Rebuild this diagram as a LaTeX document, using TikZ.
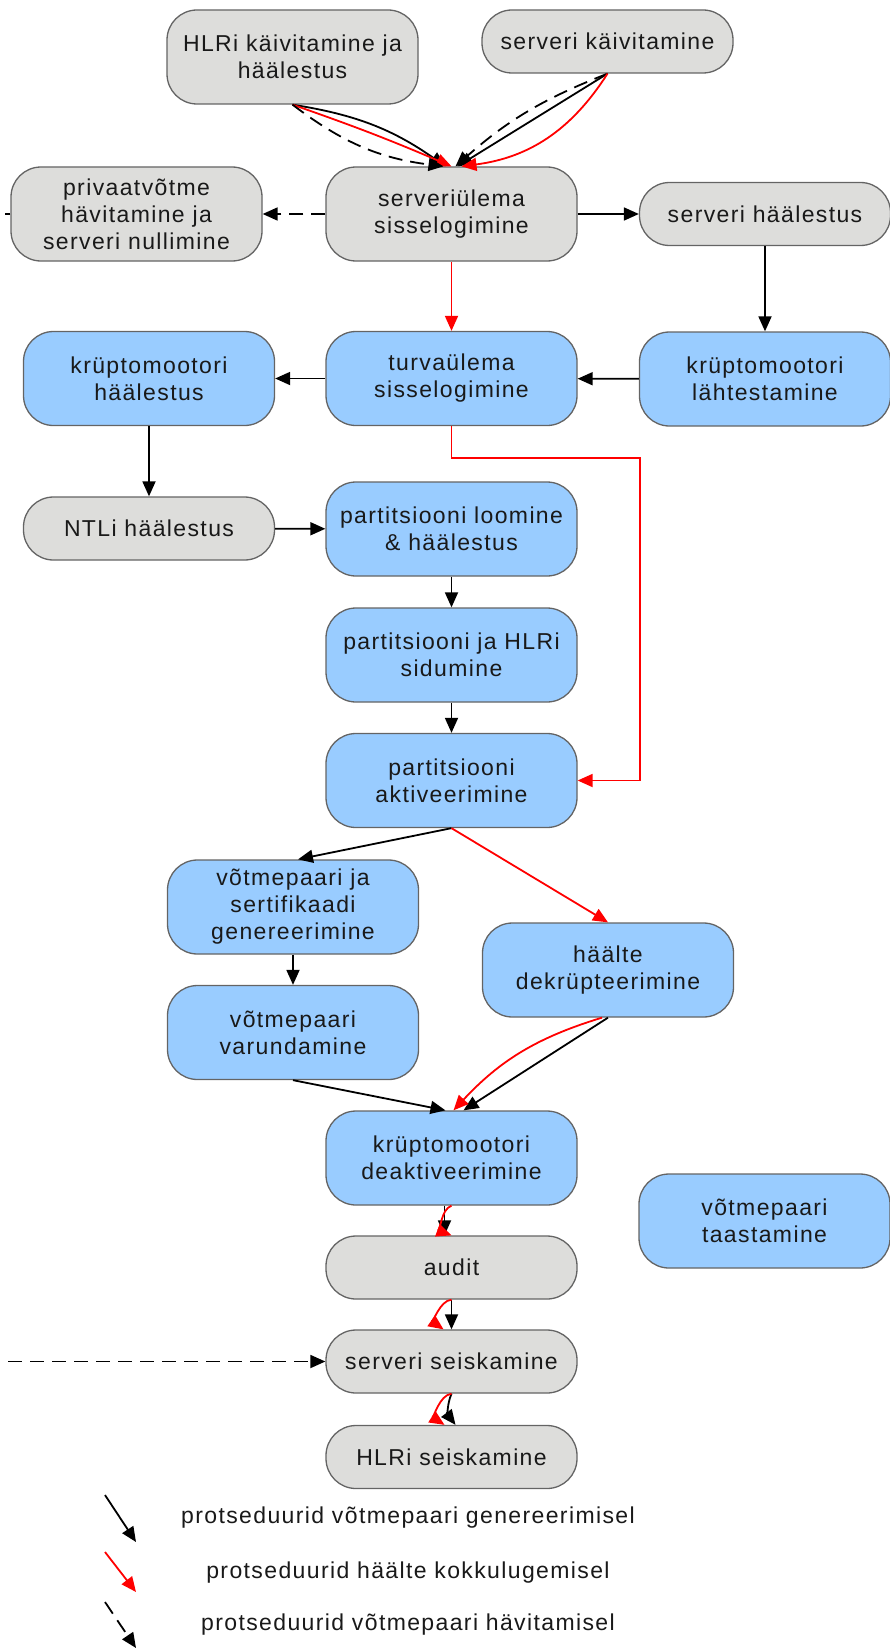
\documentclass[tikz,border=0pt]{standalone}
\usepackage{fontspec}
\setmainfont{Liberation Sans}[LetterSpace=6]
\usepackage{tikz}
\usetikzlibrary{shapes,arrows.meta}
\definecolor{boxgrey}{RGB}{221,221,219}
\definecolor{boxblue}{RGB}{153,204,255}
\definecolor{boxline}{RGB}{100,100,100}
\definecolor{txtcol}{RGB}{25,25,25}
\tikzstyle{greybox} = [draw=boxline, line width=1.3pt, fill=boxgrey, rounded corners=30pt, minimum width=251pt, minimum height=94pt, align=center, inner sep=2pt, text=txtcol, font=\fontsize{23pt}{27pt}\selectfont]
\tikzstyle{bluebox} = [greybox, fill=boxblue]
\tikzstyle{onerow} = [minimum height=63pt]
\tikzstyle{genline} = [draw, ->, line width=1.8pt]
\tikzstyle{countline} = [genline, red]
\tikzstyle{destroyline} = [genline, dash pattern=on 14pt off 8pt]
\tikzstyle{legtext} = [text=txtcol, font=\fontsize{23pt}{27pt}\selectfont]

\begin{document}
\begin{tikzpicture}[x=1pt, y=-1pt, >={Triangle[length=15pt,width=13pt]}]
    \useasboundingbox (0,0) rectangle (890,1648);
    % We start with the server side
    \node [greybox] (susr) at (451.5,214) {serveriülema\\sisselogimine};
    \node [greybox] (hkaiv) at (292.5,57) {HLRi käivitamine ja\\häälestus};
    \node [greybox, onerow] (skaiv) at (607.5,41.5) {serveri käivitamine};
    \node [greybox, node distance=315pt, left of = susr] (pvh) {privaatvõtme\\hävitamine ja\\serveri nullimine};
    \node [greybox, onerow, node distance=313.5pt, right of = susr] (shaal) {serveri häälestus};

    % Then the crypto engine and the partition
    \node [bluebox, node distance=164.5pt, below of = susr] (tusr) {turvaülema\\sisselogimine};
    \node [bluebox, node distance=165pt, below of = shaal] (klaht) {krüptomootori\\lähtestamine};
    \node [bluebox, node distance=302.5pt, left of = tusr] (khaal) {krüptomootori\\häälestus};
    \node [greybox, onerow, node distance=150pt, below of = khaal] (ntl) {NTLi häälestus};
    \node [bluebox, node distance=150.5pt, below of = tusr] (ploom) {partitsiooni loomine\\\& häälestus};
    \node [bluebox, node distance=126pt, below of = ploom] (psid) {partitsiooni ja HLRi\\sidumine};
    \node [bluebox, node distance=125.5pt, below of = psid] (pakt) {partitsiooni\\aktiveerimine};

    % Key pair and votes
    \node [bluebox] (vgen) at (293,907) {võtmepaari ja\\sertifikaadi\\genereerimine};
    \node [bluebox, node distance=125.5pt, below of = vgen] (vvar) {võtmepaari\\varundamine};
    \node [bluebox] (hdekr) at (608,970) {häälte\\dekrüpteerimine};
    \node [bluebox, node distance=377.5pt, below of = pakt] (kdeakt) {krüptomootori\\deaktiveerimine};
    \node [bluebox] (vtaast) at (764.5,1221) {võtmepaari\\taastamine};

    % Shutting down
    \node [greybox, onerow, node distance=109.5pt, below of = kdeakt] (audit) {audit};
    \node [greybox, onerow, node distance=94pt, below of = audit] (sseis) {serveri seiskamine};
    \node [greybox, onerow, node distance=95.5pt, below of = sseis] (hseis) {HLRi seiskamine};

    % Once the nodes are placed, the connectors
    \draw [genline] (hkaiv.south) to[bend left=13] ([xshift=-6pt]susr.north);
    \draw [countline] (hkaiv.south) to[bend left=2] (susr.north);
    \draw [destroyline] (hkaiv.south) to[bend right=15] ([xshift=-8pt]susr.north);
    \draw [destroyline] (skaiv.south) to[bend right=10] ([xshift=4pt]susr.north);
    \draw [genline] (skaiv.south) -- ([xshift=6pt]susr.north);
    \draw [countline] (skaiv.south) to[bend left=25] ([xshift=10pt]susr.north);

    \draw [destroyline] (susr) -- (pvh);
    \coordinate (pvstub) at (5,214);
    \draw [line width=1.8pt] (pvh.west) -- (pvstub);
    \draw [genline] (susr) -- (shaal);
    \draw [countline] (susr) -- (tusr);
    \draw [genline] (shaal) -- (klaht);
    \draw [genline] (klaht) -- (tusr);
    \draw [genline] (tusr) -- (khaal);
    \draw [genline] (khaal) -- (ntl);
    \draw [genline] (ntl) -- (ploom);
    \draw [genline] (ploom) -- (psid);
    \draw [genline] (psid) -- (pakt);
    \draw [countline] (tusr.south) -- ++(0,32) -| ([xshift=62pt]pakt.east) -- (pakt.east);

    \draw [genline] (pakt.south) -- ([xshift=5pt]vgen.north);
    \draw [countline] (pakt.south) -- (hdekr.north);
    \draw [genline] (vgen) -- (vvar);
    \draw [genline] (vvar.south) -- ([xshift=-6pt]kdeakt.north);
    \draw [genline] (hdekr.south) -- ([xshift=12pt]kdeakt.north);
    \draw [countline] ([xshift=-6pt]hdekr.south) to[bend right=15] ([xshift=2pt]kdeakt.north);

    \draw [genline] ([xshift=-7pt]kdeakt.south) -- ([xshift=-7pt]audit.north);
    \draw [countline] (kdeakt.south) to[bend right=70] (audit.north);
    \draw [genline] (audit.south) -- (sseis.north);
    \draw [countline] (audit.south) to[bend right=70] ([xshift=-8pt]sseis.north);
    \draw [genline] (sseis.south) to[bend right=30] ([xshift=4pt]hseis.north);
    \draw [countline] (sseis.south) to[bend right=70] ([xshift=-7pt]hseis.north);
    \coordinate (leftin) at (8,1361.5);
    \draw [destroyline] (leftin) -- (sseis);

    % Legend
    \coordinate (lga1) at (105,1495);
    \coordinate (lgb1) at (136,1542);
    \coordinate (lga2) at (105,1552);
    \coordinate (lgb2) at (136,1592);
    \coordinate (lga3) at (105,1602);
    \coordinate (lgb3) at (136,1648);
    \draw [genline] (lga1) -- (lgb1);
    \draw [countline] (lga2) -- (lgb2);
    \draw [destroyline] (lga3) -- (lgb3);
    \node [legtext] (lgt1) at (408,1518) {protseduurid võtmepaari genereerimisel};
    \node [legtext] (lgt2) at (408,1573) {protseduurid häälte kokkulugemisel};
    \node [legtext] (lgt3) at (408,1625) {protseduurid võtmepaari hävitamisel};
\end{tikzpicture}
\end{document}
